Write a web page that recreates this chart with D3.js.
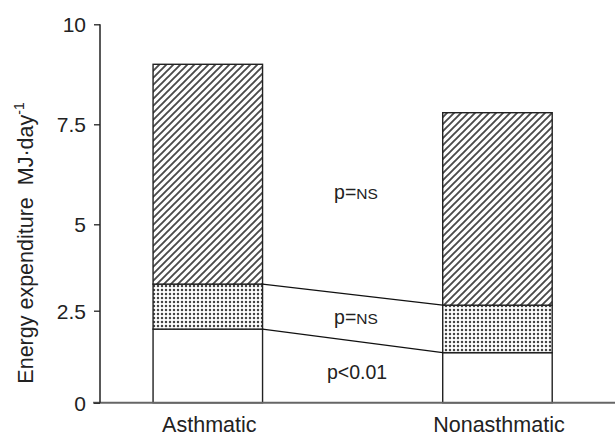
<!DOCTYPE html>
<html><head><meta charset="utf-8">
<script src="https://cdn.jsdelivr.net/npm/d3@7"></script>
<style>body{margin:0;background:#fff}svg{display:block}text{font-family:"Liberation Sans",Arial,Helvetica,sans-serif;fill:#222}</style>
</head><body>
<svg id="c" width="615" height="436"></svg>
<script>
const categories = ["Asthmatic", "Nonasthmatic"];
const seriesKeys = ["basal", "middle", "upper"];
const basalValues = [2.0, 1.36];
const middleValues = [1.27, 1.30];
const upperValues = [5.73, 5.13];
const tickValues = [0, 2.5, 5, 7.5, 10];
const tickLabels = ["0", "2.5", "5", "7.5", "10"];
const pLabels = ["p=NS", "p=NS", "p<0.01"];
const yTitle = "Energy expenditure  MJ·day";

const svg = d3.select("#c");
const rows = categories.map((c, i) => ({cat: c, basal: basalValues[i], middle: middleValues[i], upper: upperValues[i]}));
const stacked = d3.stack().keys(seriesKeys)(rows);

const x = d3.scaleBand().domain(categories).range([100, 615]).paddingInner(0.622).paddingOuter(0.2).align(0.458);
const y = d3.scaleLinear().domain(tickValues).range([402.7, 310.7, 224.3, 124.3, 24.3]);

const defs = svg.append("defs");
const hatch = defs.append("pattern").attr("id", "hatch").attr("patternUnits", "userSpaceOnUse").attr("width", 7).attr("height", 7);
hatch.append("rect").attr("width", 7).attr("height", 7).attr("fill", "#fff");
hatch.append("path").attr("d", "M-1,1 l2,-2 M0,7 l7,-7 M6,8 l2,-2").attr("stroke", "#4a4a4a").attr("stroke-width", 1.9);
const dots = defs.append("pattern").attr("id", "dots").attr("patternUnits", "userSpaceOnUse").attr("width", 4).attr("height", 4);
dots.append("rect").attr("width", 4).attr("height", 4).attr("fill", "#fff");
dots.append("circle").attr("cx", 2).attr("cy", 2).attr("r", 1.25).attr("fill", "#444");

const fills = {basal: "#fff", middle: "url(#dots)", upper: "url(#hatch)"};

svg.append("g").selectAll("g").data(stacked).join("g")
  .attr("fill", d => fills[d.key])
  .selectAll("rect").data(d => d).join("rect")
  .attr("x", d => x(d.data.cat))
  .attr("width", x.bandwidth())
  .attr("y", d => y(d[1]))
  .attr("height", d => y(d[0]) - y(d[1]))
  .attr("stroke", "#222").attr("stroke-width", 1.4);

// connecting lines
const connectors = [stacked[0], stacked[1]];
svg.append("g").selectAll("line").data(connectors).join("line")
  .attr("x1", x(categories[0]) + x.bandwidth())
  .attr("x2", x(categories[1]))
  .attr("y1", d => y(d[0][1]))
  .attr("y2", d => y(d[1][1]))
  .attr("stroke", "#111").attr("stroke-width", 1.2);

// x axis line
svg.append("line").attr("x1", 93).attr("x2", 615).attr("y1", y(0)).attr("y2", y(0))
  .attr("stroke", "#666").attr("stroke-width", 2);

// y axis
const yAxis = svg.append("g").attr("transform", "translate(100,0)")
  .call(d3.axisLeft(y).tickValues(tickValues).tickFormat((d, i) => tickLabels[i]).tickSize(6).tickPadding(8));
yAxis.select(".domain").attr("stroke", "#222").attr("stroke-width", 1.5).attr("d", `M0,${y(10)}V${y(0)}`);
yAxis.selectAll(".tick line").attr("stroke", "#222").attr("stroke-width", 1.3);
yAxis.selectAll(".tick text").attr("font-size", 21).attr("fill", "#222").attr("dy", "0.35em")
  .style("font-family", '"Liberation Sans",Arial,sans-serif');

// category labels
svg.append("g").selectAll("text").data(categories).join("text")
  .attr("x", d => x(d) + x.bandwidth() / 2 + 1.5)
  .attr("y", 432)
  .attr("text-anchor", "middle").attr("font-size", 21.5)
  .text(d => d);

// y title
const yt = svg.append("text").attr("transform", "translate(33,243) rotate(-90)")
  .attr("text-anchor", "middle").attr("font-size", 21.5).style("white-space", "pre");
yt.append("tspan").text(yTitle);
yt.append("tspan").attr("font-size", 14).attr("dy", -9).text("-1");

// p labels
const pPos = [[356, 199], [356, 324], [357, 379]];
pLabels.forEach((lbl, i) => {
  const t = svg.append("text").attr("x", pPos[i][0]).attr("y", pPos[i][1]).attr("text-anchor", "middle").attr("font-size", 19.5);
  if (lbl.indexOf("NS") >= 0) {
    t.append("tspan").text("p=");
    t.append("tspan").attr("font-size", 15.5).text("NS");
  } else {
    t.text(lbl);
  }
});
</script>
</body></html>
